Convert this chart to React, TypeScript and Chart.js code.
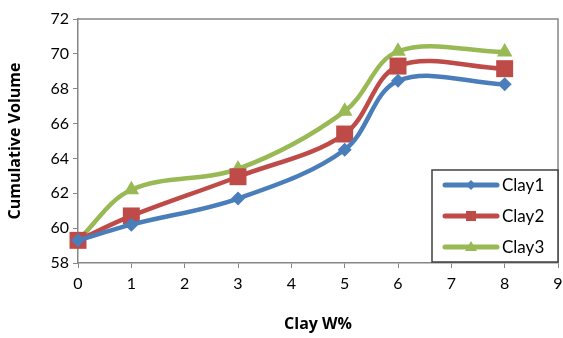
import React, { useEffect, useRef } from "react";
import { Chart, registerables } from "chart.js";
Chart.register(...registerables);

const xValues = [0, 1, 3, 5, 6, 8];
const clay1 = [59.3, 60.2, 61.7, 64.5, 68.45, 68.25];
const clay2 = [59.3, 60.7, 62.95, 65.4, 69.3, 69.15];
const clay3 = [59.3, 62.2, 63.4, 66.7, 70.15, 70.1];
const seriesNames = ["Clay1", "Clay2", "Clay3"];
const colors = ["#4A7EBB", "#BE4B48", "#98B954"];
const styles = ["rectRot", "rect", "triangle"];
const radii = [7, 12, 9];

const FONT = "Lato, 'Open Sans', sans-serif";
const TITLE_FONT = "'Open Sans', Lato, sans-serif";

const frameAndLegend = {
  id: "frameAndLegend",
  afterDatasetsDraw(chart: any) {
    const { ctx, chartArea } = chart;
    ctx.save();
    ctx.strokeStyle = "#868686";
    ctx.lineWidth = 1.5;
    ctx.beginPath();
    ctx.moveTo(chartArea.left, chartArea.top);
    ctx.lineTo(chartArea.right, chartArea.top);
    ctx.lineTo(chartArea.right, chartArea.bottom);
    ctx.stroke();
    // legend box
    const bx = 432, by = 170, bw = 126, bh = 92;
    ctx.fillStyle = "#ffffff";
    ctx.fillRect(bx, by, bw, bh);
    ctx.strokeStyle = "#404040";
    ctx.lineWidth = 1.5;
    ctx.strokeRect(bx, by, bw, bh);
    const rows = [185, 216, 247];
    seriesNames.forEach((name, i) => {
      const y = rows[i];
      ctx.strokeStyle = colors[i];
      ctx.lineWidth = 5;
      ctx.lineCap = "round";
      ctx.beginPath();
      ctx.moveTo(445, y);
      ctx.lineTo(497, y);
      ctx.stroke();
      ctx.fillStyle = colors[i];
      ctx.beginPath();
      if (i === 0) {
        ctx.moveTo(471, y - 5); ctx.lineTo(476, y); ctx.lineTo(471, y + 5); ctx.lineTo(466, y);
      } else if (i === 1) {
        ctx.rect(466, y - 5, 10, 10);
      } else {
        ctx.moveTo(471, y - 6); ctx.lineTo(477, y + 4); ctx.lineTo(465, y + 4);
      }
      ctx.closePath();
      ctx.fill();
      ctx.fillStyle = "#000";
      ctx.font = "17px " + FONT;
      ctx.textBaseline = "middle";
      ctx.textAlign = "left";
      ctx.fillText(name, 502, y + 1);
    });
    ctx.restore();
  },
};

export default function App() {
  const ref = useRef<HTMLCanvasElement>(null);
  useEffect(() => {
    document.body.style.margin = "0";
    const all = [clay1, clay2, clay3];
    const chart = new Chart(ref.current!, {
      type: "line",
      data: {
        datasets: all.map((vals, i) => ({
          label: seriesNames[i],
          data: vals.map((v, j) => ({ x: xValues[j], y: v })),
          borderColor: colors[i],
          backgroundColor: colors[i],
          borderWidth: 4.5,
          pointStyle: styles[i] as any,
          pointRadius: radii[i],
          pointBorderWidth: 0,
          tension: 0.35,
          fill: false,
          clip: false as any,
        })),
      },
      options: {
        animation: false,
        responsive: false,
        layout: { autoPadding: false, padding: { top: 19, right: 5, left: 0, bottom: 0 } },
        plugins: { legend: { display: false }, tooltip: { enabled: false } },
        scales: {
          x: {
            type: "linear",
            min: 0,
            max: 9,
            ticks: { stepSize: 1, color: "#000", font: { family: FONT, size: 16 }, padding: 6 },
            grid: { drawOnChartArea: false, drawTicks: true, tickLength: 5, color: "#868686" },
            border: { color: "#868686", width: 1.5 },
            title: { display: true, text: "Clay W%", color: "#000", font: { family: TITLE_FONT, size: 16, weight: "bold" }, padding: { top: 10 } },
            afterFit: (s: any) => { s.height = 75; s.paddingRight = 0; },
          },
          y: {
            min: 58,
            max: 72,
            ticks: { stepSize: 2, color: "#000", font: { family: FONT, size: 16 }, padding: 4 },
            grid: { drawOnChartArea: false, drawTicks: true, tickLength: 5, color: "#868686" },
            border: { color: "#868686", width: 1.5 },
            title: { display: true, text: "Cumulative Volume", color: "#000", font: { family: TITLE_FONT, size: 16, weight: "bold" }, padding: { top: 6, bottom: 4 } },
            afterFit: (s: any) => { s.width = 78; },
          },
        },
      },
      plugins: [frameAndLegend],
    });
    return () => chart.destroy();
  }, []);
  return (
    <div style={{ width: 563, height: 338 }}>
      <canvas ref={ref} width={563} height={338} style={{ display: "block" }} />
    </div>
  );
}
